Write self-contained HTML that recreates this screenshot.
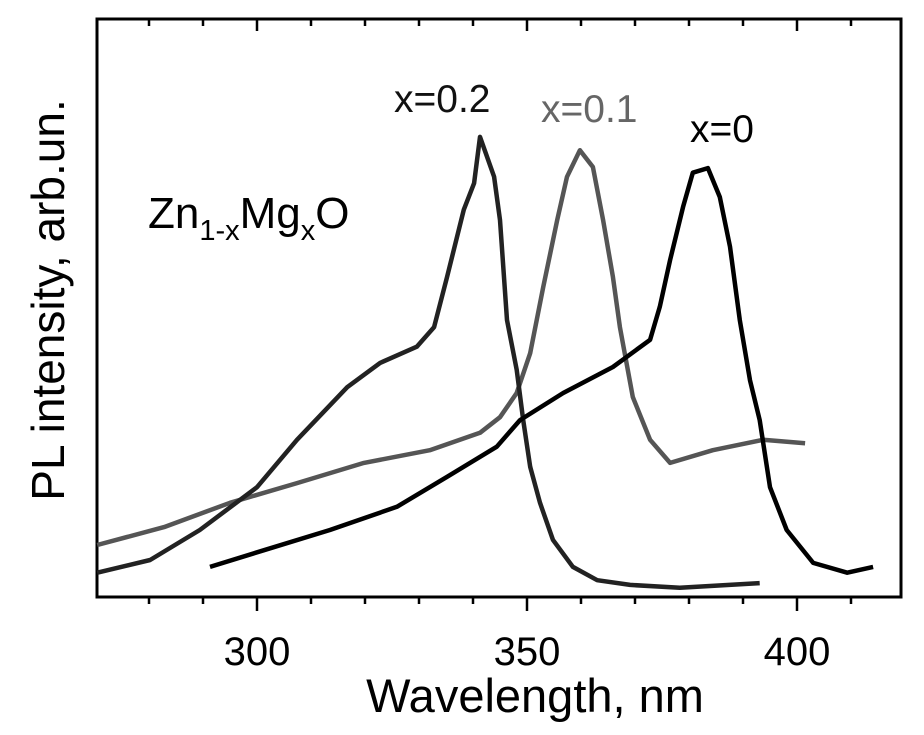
<!DOCTYPE html>
<html><head><meta charset="utf-8"><style>
html,body{margin:0;padding:0;background:#fff;}
svg{display:block;font-family:"Liberation Sans",Arial,sans-serif;}
</style></head><body>
<svg id="chart" width="924" height="735" viewBox="0 0 924 735" xmlns="http://www.w3.org/2000/svg">
<rect x="97" y="19" width="804" height="578" fill="none" stroke="#000" stroke-width="3"/>
<g id="ticks"></g>
<g id="series"></g>
<text x="535" y="712" font-size="47" text-anchor="middle">Wavelength, nm</text>
<text transform="translate(64,300) rotate(-90)" font-size="46" text-anchor="middle">PL intensity, arb.un.</text>
<text x="148" y="228" font-size="44">Zn<tspan font-size="29" dy="12">1-x</tspan><tspan dy="-12">Mg</tspan><tspan font-size="29" dy="12">x</tspan><tspan dy="-12">O</tspan></text>
<text x="394" y="112" font-size="39" fill="#111">x=0.2</text>
<text x="541" y="122" font-size="39" fill="#666">x=0.1</text>
<text x="690" y="142" font-size="39" fill="#000">x=0</text>
</svg>
<script>
const xTicks=[300,350,400];
const xMinor=[280,290,310,320,330,340,360,370,380,390,410];
const wl02=[270.4,280.2,289.4,300,307.4,316.7,322.8,329.6,332.8,335.2,338.3,340.2,341.3,343.9,345.0,346.3,348.1,349.3,350.6,352.4,354.8,358.5,363.0,369.1,378.3,393.1];
const int02=[4.2,6.4,11.6,19.0,27.2,36.3,40.5,43.3,46.7,55.4,67.0,71.6,79.6,72.7,65.2,47.9,39.3,30.6,22.5,16.3,9.9,5.2,2.9,2.1,1.6,2.4];
const wl01=[270.4,282.8,295.0,307.4,319.8,332.0,341.3,345.0,348.1,350.6,353.0,355.6,357.4,359.8,362.2,364.1,365.9,367.2,369.6,372.8,376.5,384.4,393.7,401.5];
const int01=[9.0,12.1,16.3,19.7,23.2,25.4,28.4,31.1,35.3,42.2,53.6,65.2,72.7,77.3,74.4,65.2,55.4,46.7,34.6,27.2,23.2,25.4,27.2,26.6];
const wl0=[291.3,301.3,313.5,325.9,335.2,344.4,348.7,356.7,365.9,372.8,374.6,376.5,378.9,380.7,383.5,385.7,387.6,389.4,391.3,393.1,395.0,398.1,403.0,409.3,414.1];
const int0=[5.2,8.1,11.6,15.6,20.8,26.0,30.6,35.3,39.8,44.5,50.2,58.3,67.5,73.4,74.2,69.2,60.6,47.9,37.5,30.6,19.0,11.6,5.9,4.2,5.2];
const NS='http://www.w3.org/2000/svg';
function xs(v){return 257+(v-300)*5.4;}
function ys(v){return 597-v*5.78;}
const tg=document.getElementById('ticks');
function line(x1,y1,x2,y2,name){
  const l=document.createElementNS(NS,'line');
  l.setAttribute('x1',x1);l.setAttribute('y1',y1);l.setAttribute('x2',x2);l.setAttribute('y2',y2);
  l.setAttribute('stroke','#000');l.setAttribute('stroke-width','2.5');
  
  
  tg.appendChild(l);
}
xTicks.forEach(v=>{
  const x=xs(v);
  line(x,597,x,611,'x-major-tick');
  line(x,19,x,31,'x-top-major-tick');
  const t=document.createElementNS(NS,'text');
  t.setAttribute('x',x);t.setAttribute('y',665);t.setAttribute('font-size','40');t.setAttribute('text-anchor','middle');
  t.textContent=v;
  
  
  tg.appendChild(t);
});
xMinor.forEach(v=>{
  const x=xs(v);
  line(x,597,x,604,'x-minor-tick');
  line(x,19,x,26,'x-top-minor-tick');
});
const sg=document.getElementById('series');
function series(wl,it,color,name){
  const p=document.createElementNS(NS,'polyline');
  p.setAttribute('points',wl.map((w,i)=>xs(w).toFixed(1)+','+ys(it[i]).toFixed(1)).join(' '));
  p.setAttribute('fill','none');p.setAttribute('stroke',color);p.setAttribute('stroke-width','4.5');
  p.setAttribute('stroke-linejoin','round');
  
  
  sg.appendChild(p);
}
series(wl01,int01,'#555','series-x01');
series(wl02,int02,'#222','series-x02');
series(wl0,int0,'#000','series-x0');
</script>
</body></html>
